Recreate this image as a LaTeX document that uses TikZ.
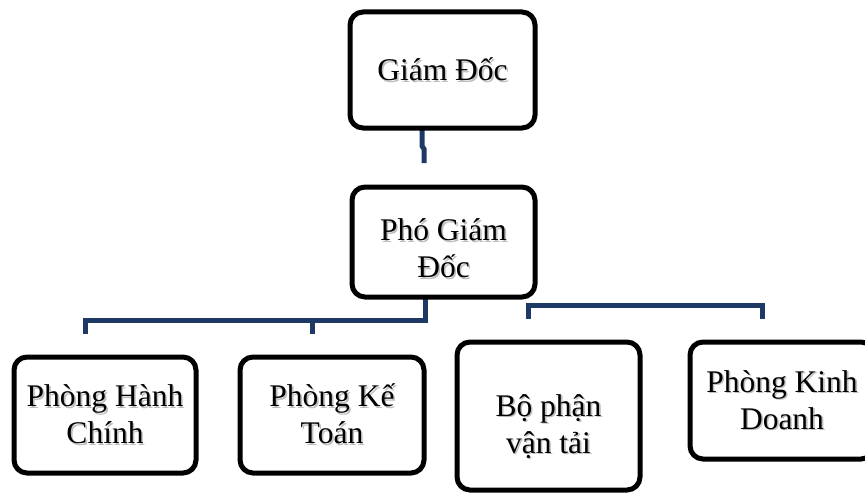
\documentclass[tikz,border=0pt]{standalone}
\usepackage{fontspec}
\setmainfont{Liberation Serif}
\usetikzlibrary{calc,backgrounds}
\definecolor{busblue}{RGB}{31,57,102}
% soft offset copy under a line of text
\newcommand\shl[1]{\makebox[0pt][l]{\hspace{1.6pt}\raisebox{-1.6pt}{\textcolor{black!25}{#1}}}#1}
\tikzset{
  unit/.style={draw=black, line width=5pt, rounded corners=13pt, fill=white,
    outer sep=0pt, inner sep=0pt, align=center,
    font=\fontsize{31.5}{37}\selectfont},
  bus/.style={draw=busblue, line width=5pt, line cap=butt, line join=miter},
}
\begin{document}
\begin{tikzpicture}[x=1pt,y=-1pt]
  \useasboundingbox (0,0) rectangle (865,495);
  \begin{scope}
    \clip (0,0) rectangle (865,495);
    \node[unit, minimum width=185pt, minimum height=116pt] (gd) at (442.5,70) {\shl{Giám Đốc}};
    \node[unit, minimum width=183pt, minimum height=110pt] (pgd) at (443.5,242) {\rule{0pt}{36pt}\shl{Phó Giám}\\\shl{Đốc}};
    \node[unit, minimum width=182pt, minimum height=116pt] (hc) at (105,415) {\shl{Phòng Hành}\\\shl{Chính}};
    \node[unit, minimum width=184pt, minimum height=116pt] (kt) at (332,415) {\shl{Phòng Kế}\\\shl{Toán}};
    \node[unit, minimum width=183pt, minimum height=148pt] (vt) at (548.5,416) {\rule{0pt}{44pt}\shl{Bộ phận}\\\shl{vận tải}};
    \node[unit, minimum width=184pt, minimum height=117pt] (kd) at (782,400.5) {\shl{Phòng Kinh}\\\shl{Doanh}};
  \end{scope}
  \begin{scope}[on background layer]
    % director to deputy
    \draw[bus] ($(gd.south)+(-20.5,0)$) -- ++(0,18) -- ++(2,3) -- ($(pgd.north)+(-19.5,-24)$);
    % deputy to the left departments
    \draw[bus] ($(pgd.south)+(-18.5,0)$) |- ($(hc.north)+(-20,-37)$) -- ($(hc.north)+(-20,-23)$);
    \draw[bus] ($(kt.north)+(-20,-37)$) -- ($(kt.north)+(-20,-23)$);
    % deputy to the right departments
    \draw[bus] ($(vt.north)+(-20,-23)$) |- ($(kd.north)+(-20,-37)$) -- ($(kd.north)+(-20,-23)$);
  \end{scope}
\end{tikzpicture}
\end{document}
